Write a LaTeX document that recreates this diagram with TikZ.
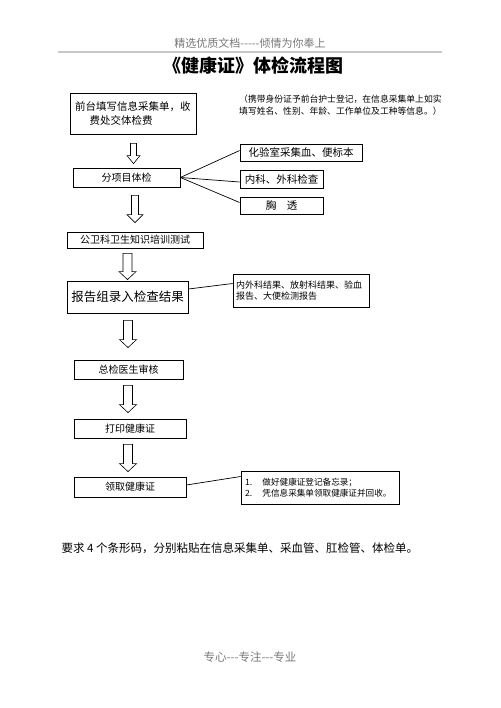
\documentclass[tikz,border=0pt]{standalone}
\usepackage{fontspec}
\usepackage{tikz}
\usetikzlibrary{positioning,calc}
\newfontfamily\cjk{Noto Sans CJK SC}
\definecolor{headgray}{RGB}{120,120,120}
\definecolor{rulegray}{RGB}{200,200,200}
\newcommand{\cjksize}[1]{\fontsize{#1}{#1}\selectfont\cjk}
% hollow block arrow: half head, half shaft, top point, tip point
\newcommand{\hollowarrow}[4]{%
  \draw[hollow] let \p1=(#3), \p2=(#4) in
    (\x1-#2pt,\y1) -- (\x1+#2pt,\y1) -- (\x1+#2pt,\y2+8pt) -- (\x1+#1pt,\y2+8pt)
    -- (\x1,\y2) -- (\x1-#1pt,\y2+8pt) -- (\x1-#2pt,\y2+8pt) -- cycle;}

\begin{document}
\begin{tikzpicture}[x=1pt,y=-1pt,
    stagebox/.style={draw,line width=0.8pt,inner sep=0pt,align=center,font=\cjksize{10}},
    sidebox/.style={draw,line width=0.8pt,inner sep=0pt,align=center,font=\cjksize{10.5}},
    notebox/.style={draw,line width=0.8pt,inner sep=3pt,align=left},
    hollow/.style={draw,line width=0.6pt,fill=white},
    callout/.style={line width=0.7pt}]
    \useasboundingbox (0,0) rectangle (500,708);
    % page header and title
    \node[font=\cjksize{11},text=headgray] (header) at (250,43) {精选优质文档-----倾情为你奉上};
    \draw[rulegray,line width=1.5pt] (58,52) -- (442,52);
    \node[font=\cjksize{18}\bfseries] (title) at (253,66) {《健康证》体检流程图};
    % main column
    \node[stagebox,font=\cjksize{10.5},align=left,minimum width=126,minimum height=41,text width=116] (front) at (133,113.5) {前台填写信息采集单，收\\[4pt]\hspace{1.4em}费处交体检费};
    \node[anchor=north west,align=left,font=\cjksize{8.8},inner sep=0pt] (frontnote) at (239,95) {（携带身份证予前台护士登记，在信息采集单上如实\\[3pt]填写姓名、性别、年龄、工作单位及工种等信息。）};
    \node[stagebox,minimum width=107,minimum height=19] (items) at (126.5,177.5) {分项目体检};
    \node[sidebox,minimum width=122,minimum height=17] (lab) at (301,152.5) {化验室采集血、便标本};
    \node[sidebox,minimum width=83,minimum height=18] (internal) at (281.5,179) {内科、外科检查};
    \node[sidebox,minimum width=83,minimum height=17] (xray) at (281.5,205.5) {胸\hspace{1em}透};
    \node[stagebox,minimum width=136,minimum height=16] (hygiene) at (135,240) {公卫科卫生知识培训测试};
    \node[stagebox,font=\cjksize{12.5},minimum width=121,minimum height=32] (report) at (127.5,297) {报告组录入检查结果};
    \node[notebox,font=\cjksize{9},minimum width=136,minimum height=33,text width=130] (reportnote) at (301,290.5) {内外科结果、放射科结果、验血\\[2pt]报告、大便检测报告\\[6pt]};
    \node[stagebox,minimum width=109,minimum height=19] (review) at (128.5,369.5) {总检医生审核};
    \node[stagebox,minimum width=112,minimum height=19] (print) at (130,428.5) {打印健康证};
    \node[stagebox,minimum width=112,minimum height=20] (collect) at (130,487) {领取健康证};
    \node[notebox,font=\cjksize{8.6},minimum width=158,minimum height=33,text width=150] (collectnote) at (320,487.5) {1.\hspace{1.2em}做好健康证登记备忘录；\\[1pt]2.\hspace{1.2em}凭信息采集单领取健康证并回收。\\[6pt]};
    % callout lines
    \draw[callout] (items.east) -- ([yshift=2pt]lab.west);
    \draw[callout] (items.east) -- ([yshift=-3pt]internal.west);
    \draw[callout] (items.east) -- ([yshift=3pt]xray.west);
    \draw[callout] ([yshift=8pt]report.east) -- ([yshift=7pt]reportnote.west);
    \draw[callout] ([yshift=2pt]collect.east) -- ([yshift=11pt]collectnote.west);
    % hollow arrows between stages
    \hollowarrow{6.5}{3}{[xshift=0.5pt,yshift=-9pt]front.south}{[yshift=4pt]items.north}
    \hollowarrow{8}{3.5}{[xshift=8.5pt,yshift=-8pt]items.south}{[yshift=9pt]hygiene.north}
    \hollowarrow{8.5}{4.5}{[xshift=-7.5pt,yshift=-5pt]hygiene.south}{[yshift=1pt]report.north}
    \hollowarrow{8.5}{4.5}{[xshift=0.5pt,yshift=-7pt]report.south}{[yshift=12pt]review.north}
    \hollowarrow{8.5}{4.5}{[xshift=-0.5pt,yshift=-6pt]review.south}{[yshift=6pt]print.north}
    \hollowarrow{8.5}{4.5}{[xshift=-2pt,yshift=-6pt]print.south}{[yshift=5pt]collect.north}
    % footnote and page footer
    \node[anchor=west,font=\cjksize{11.5}] (barcode) at (58,548) {要求 4 个条形码，分别粘贴在信息采集单、采血管、肛检管、体检单。};
    \node[font=\cjksize{11.5},text=headgray] (footer) at (250,657) {专心---专注---专业};
\end{tikzpicture}
\end{document}
